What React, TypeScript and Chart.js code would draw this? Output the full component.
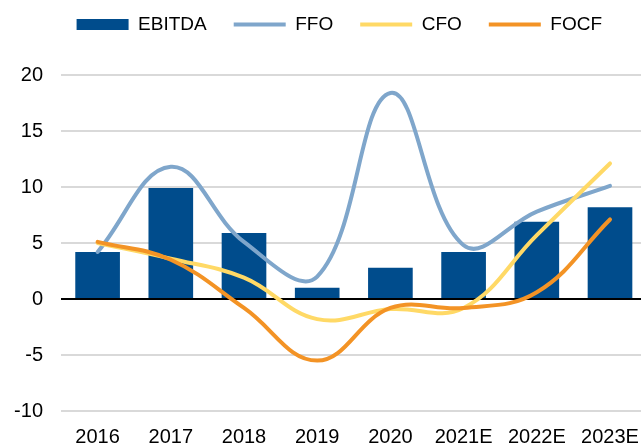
import React, { useEffect, useRef } from "react";
import { Chart, registerables } from "chart.js";

Chart.register(...registerables);

const categories = ["2016", "2017", "2018", "2019", "2020", "2021E", "2022E", "2023E"];
const ebitda = [4.2, 9.9, 5.9, 1.0, 2.8, 4.2, 6.9, 8.2];
const ffo = [4.2, 11.8, 5.1, 2.0, 18.4, 4.8, 7.8, 10.1];
const cfo = [5.0, 3.6, 1.9, -1.8, -0.9, -0.8, 5.7, 12.1];
const focf = [5.1, 3.5, -0.8, -5.5, -0.8, -0.8, 0.6, 7.1];
const yMin = -10;
const yMax = 20;
const yStep = 5;

const FONT = "'Liberation Sans', Arial, sans-serif";

const legendShift = {
  id: "legendShift",
  afterLayout(chart: any) {
    const lg = chart.legend;
    if (lg) {
      lg.top -= 31;
      lg.bottom -= 31;
      lg.left += 12;
      lg.right += 12;
    }
  },
};

export default function App() {
  const ref = useRef<HTMLCanvasElement | null>(null);

  useEffect(() => {
    if (!ref.current) return;
    const chart = new Chart(ref.current, {
      type: "bar",
      data: {
        labels: categories,
        datasets: [
          {
            type: "bar",
            label: "EBITDA",
            data: ebitda,
            backgroundColor: "#004C8C",
            borderWidth: 0,
            barPercentage: 0.61,
            categoryPercentage: 1,
            pointStyle: "rect",
            order: 4,
          } as any,
          {
            type: "line",
            label: "FFO",
            data: ffo,
            borderColor: "#7FA6CB",
            backgroundColor: "#7FA6CB",
            borderWidth: 4,
            tension: 0.4,
            pointRadius: 0,
            pointStyle: "line",
            borderCapStyle: "round",
            borderJoinStyle: "round",
            fill: false,
            order: 3,
          } as any,
          {
            type: "line",
            label: "CFO",
            data: cfo,
            borderColor: "#FFD966",
            backgroundColor: "#FFD966",
            borderWidth: 4,
            tension: 0.4,
            pointRadius: 0,
            pointStyle: "line",
            borderCapStyle: "round",
            borderJoinStyle: "round",
            fill: false,
            order: 2,
          } as any,
          {
            type: "line",
            label: "FOCF",
            data: focf,
            borderColor: "#F39325",
            backgroundColor: "#F39325",
            borderWidth: 4,
            tension: 0.4,
            pointRadius: 0,
            pointStyle: "line",
            borderCapStyle: "round",
            borderJoinStyle: "round",
            fill: false,
            order: 1,
          } as any,
        ],
      },
      options: {
        responsive: false,
        animation: false,
        devicePixelRatio: 1,
        layout: { padding: { left: 8, right: 34.4, top: 19, bottom: 0 } },
        plugins: {
          tooltip: { enabled: false },
          legend: {
            position: "top",
            labels: {
              usePointStyle: true,
              pointStyleWidth: 52,
              boxHeight: 11,
              padding: 27,
              color: "#000",
              font: { family: FONT, size: 19 },
              sort: (a: any, b: any) => a.datasetIndex - b.datasetIndex,
            },
          },
        },
        scales: {
          x: {
            grid: { display: false, drawTicks: false },
            border: { display: false },
            ticks: {
              color: "#000",
              font: { family: FONT, size: 20 },
              padding: 14,
              maxRotation: 0,
              autoSkip: false,
            },
            afterFit: (s: any) => {
              s.height = 35;
            },
          },
          y: {
            min: yMin,
            max: yMax,
            grid: {
              color: (c: any) => (c.tick && c.tick.value === 0 ? "#000000" : "#D9D9D9"),
              lineWidth: 2,
              drawTicks: false,
            },
            border: { display: false },
            ticks: {
              stepSize: yStep,
              color: "#000",
              font: { family: FONT, size: 20 },
              padding: 18,
            },
            afterFit: (s: any) => {
              s.width = 53;
            },
          },
        },
      },
      plugins: [legendShift],
    } as any);
    return () => chart.destroy();
  }, []);

  return (
    <div
      style={{
        position: "absolute",
        left: 0,
        top: 0,
        width: 641,
        height: 446,
        overflow: "hidden",
        background: "#fff",
      }}
    >
      <canvas ref={ref} width={681} height={446} style={{ display: "block", width: 681, height: 446 }} />
    </div>
  );
}
